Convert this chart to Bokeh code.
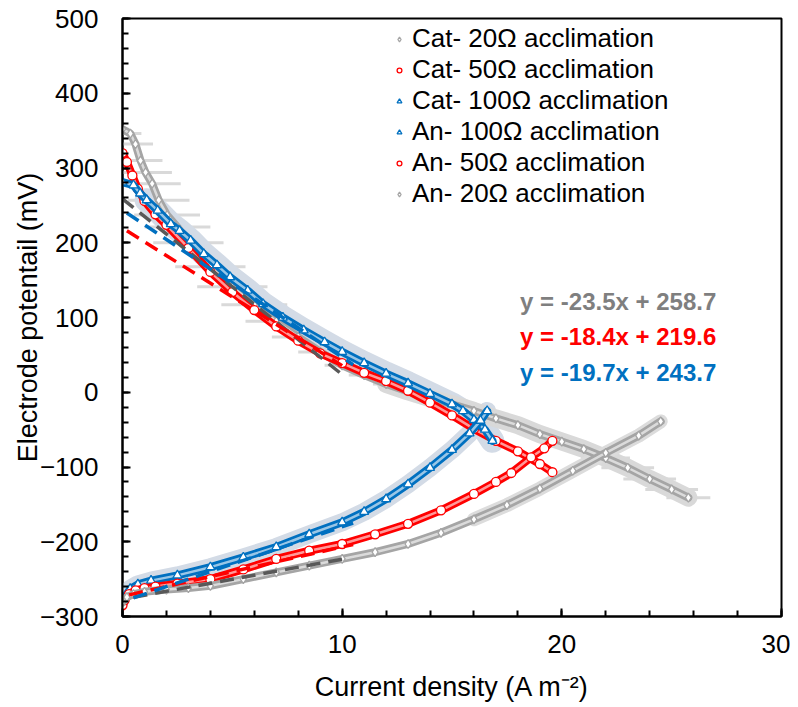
from bokeh.plotting import figure
from bokeh.models import Range1d, Legend, LegendItem, Label, FixedTicker
from bokeh.embed import file_html
from bokeh.resources import INLINE
import numpy as np

# ---------------- data ----------------
cat20_x = [0, 0.36, 0.59, 0.82, 1.05, 1.35, 1.65, 2.03, 2.5, 3, 4, 5, 6, 7, 8, 9, 10, 11, 12, 13, 14, 15, 16, 17, 18, 19, 20, 21, 22, 23, 24, 25, 25.76]
cat20_y = [352, 346, 332, 310, 294, 279, 257, 237, 221, 200, 168, 141, 117, 95, 74, 54, 36, 23, 11, 1, -8, -16, -25, -35, -44, -56, -66, -76, -88, -101, -116, -130, -141]
cat20_xerr = [0.3, 0.5, 0.8, 1.0, 1.2, 1.3, 1.4, 1.5, 1.5, 1.6, 1.6, 1.6, 1.5, 1.4, 1.2, 1.0, 0.8, 0.7, 0.6, 0.6, 0.6, 0.6, 0.6, 0.6, 0.7, 0.8, 0.9, 1.0, 1.1, 1.2, 1.2, 1.2, 1.0]

cat50_x = [0, 0.2, 0.45, 0.7, 1.0, 1.5, 2, 3, 4, 5, 6, 7, 8, 9, 10, 11, 12, 13, 14, 15, 16, 17, 18, 19, 19.57]
cat50_y = [320, 308, 290, 272, 256, 238, 224, 193, 161, 134, 110, 88, 69, 52, 39, 26, 15, 2, -14, -31, -49, -65, -79, -96, -107]

cat100_x = [0, 0.5, 0.8, 1.1, 1.6, 2.2, 2.6, 3.1, 3.7, 4.3, 4.9, 5.7, 6.4, 7.3, 8.25, 9.2, 10, 11, 12, 13, 14, 15, 15.5, 16, 16.5, 16.84]
cat100_y = [281, 277, 266, 257, 243, 225, 216, 203, 185, 170, 154, 136, 118, 100, 83, 67, 54, 39, 25, 12, -2, -16, -25, -37, -50, -65]

an100_x = [0, 0.15, 0.35, 0.7, 1.3, 2.5, 4, 5.5, 7, 8.5, 10, 11, 12, 13, 14, 15, 15.8, 16.3, 16.6]
an100_y = [-281, -272, -263, -257, -252, -245, -234, -221, -207, -190, -174, -160, -143, -123, -101, -77, -55, -38, -25]

an50_x = [0, 0.1, 0.3, 0.6, 1, 1.5, 2.5, 4, 5.5, 7, 8.5, 10, 11.5, 13, 14.5, 16, 17, 17.7, 18.6, 19.2, 19.57]
an50_y = [-285, -278, -270, -265, -262, -260, -256, -250, -237, -223, -212, -203, -190, -176, -158, -136, -120, -108, -87, -75, -65]

an20_x = [0, 0.2, 0.5, 1, 2, 3, 4, 5.5, 7, 8.5, 10, 11.5, 13, 14.5, 16, 17.5, 19, 20.5, 22, 23.5, 24.5]
an20_y = [-281, -274, -270, -267, -264, -262, -259, -250, -241, -232, -223, -214, -203, -188, -170, -151, -129, -105, -81, -58, -39]

# linear fits (slope, intercept, x-span)
fit_cat_slope = [-23.5, -18.4, -19.7]
fit_cat_icpt = [258.7, 219.6, 243.7]
fit_cat_x0 = [0.0, 0.2, 0.2]
fit_cat_x1 = [10.0, 10.0, 10.5]
fit_an_slope = [5.37, 6.6, 10.0]
fit_an_icpt = [-277.0, -273.0, -280.0]
fit_an_x0 = [0.5, 0.3, 0.5]
fit_an_x1 = [10.0, 10.5, 10.5]
fit_colors = ["#595959", "#FF0000", "#0070C0"]

eq_labels = ["y = -23.5x + 258.7", "y = -18.4x + 219.6", "y = -19.7x + 243.7"]
eq_colors = ["#7F7F7F", "#FF0000", "#0070C0"]
eq_x = [18.1, 18.1, 18.1]
eq_y = [121.0, 74.5, 26.5]

legend_labels = ["Cat- 20Ω acclimation", "Cat- 50Ω acclimation", "Cat- 100Ω acclimation",
                 "An- 100Ω acclimation", "An- 50Ω acclimation", "An- 20Ω acclimation"]

x_ticks = [0, 10, 20, 30]
y_ticks = [-300, -200, -100, 0, 100, 200, 300, 400, 500]

FONT = "Liberation Sans"
GRAY = "#A5A5A5"
RED = "#FF0000"
BLUE = "#0070C0"

p = figure(width=790, height=705, output_backend="svg", toolbar_location=None,
           x_range=Range1d(0, 30), y_range=Range1d(-300, 500),
           min_border_left=122, min_border_right=9, min_border_top=18, min_border_bottom=89)
p.grid.visible = False
p.background_fill_color = "white"
p.outline_line_color = "black"
p.outline_line_width = 2

# ---------------- error bands / bars ----------------
cx = np.array(cat20_x); cy = np.array(cat20_y); ce = np.array(cat20_xerr)
p.segment(x0=cx - ce, y0=cy, x1=cx + ce, y1=cy, line_color="#D9D9D9", line_width=3)
p.line(cat100_x[3:], cat100_y[3:], line_color="#D3DBE6", line_width=24, line_join="round", line_cap="round")
p.line(an100_x[2:], an100_y[2:], line_color="#D3DBE6", line_width=18, line_join="round", line_cap="round")
p.line(cat20_x[18:], cat20_y[18:], line_color="#D9D9D9", line_width=18, line_join="round", line_cap="round")
p.line(an20_x[14:], an20_y[14:], line_color="#DCDCDC", line_width=14, line_join="round", line_cap="round")

# ---------------- curves ----------------
def tube(xs, ys, color, width):
    p.line(xs, ys, line_color=color, line_width=width, line_join="round", line_cap="round")
    p.line(xs, ys, line_color="white", line_width=width - 5.5, line_join="round", line_cap="round", line_alpha=0.6)

renderers = {}
series = [
    ("Cat- 20Ω acclimation", cat20_x, cat20_y, GRAY, "diamond", 8),
    ("Cat- 50Ω acclimation", cat50_x, cat50_y, RED, "circle", 8),
    ("Cat- 100Ω acclimation", cat100_x, cat100_y, BLUE, "triangle", 8),
    ("An- 100Ω acclimation", an100_x, an100_y, BLUE, "triangle", 8),
    ("An- 50Ω acclimation", an50_x, an50_y, RED, "circle", 8),
    ("An- 20Ω acclimation", an20_x, an20_y, GRAY, "diamond", 8),
]
for name, xs, ys, col, mk, w in series:
    tube(xs, ys, col, w)
    r = p.scatter(xs, ys, marker=mk, size=9, line_color=col, fill_color="white", line_width=1.3)
    renderers[name] = r

# ---------------- fitted dashed lines ----------------
for i in range(3):
    xs = [fit_cat_x0[i], fit_cat_x1[i]]
    ys = [fit_cat_icpt[i] + fit_cat_slope[i] * v for v in xs]
    p.line(xs, ys, line_color=fit_colors[i], line_width=3.5, line_dash="14 8")
    xs = [fit_an_x0[i], fit_an_x1[i]]
    ys = [fit_an_icpt[i] + fit_an_slope[i] * v for v in xs]
    p.line(xs, ys, line_color=fit_colors[i], line_width=3.5, line_dash="14 8")

# ---------------- equations ----------------
for t, c, xx, yy in zip(eq_labels, eq_colors, eq_x, eq_y):
    p.add_layout(Label(x=xx, y=yy, text=t, text_color=c, text_font=FONT, text_font_size="24px",
                       text_font_style="bold", text_baseline="middle", text_align="left"))

# ---------------- legend ----------------
items = [LegendItem(label=n, renderers=[renderers[n]]) for n in legend_labels]
legend = Legend(items=items, location=(271, 407), border_line_color=None, background_fill_alpha=0,
                label_text_font=FONT, label_text_font_size="26px", label_text_color="black",
                glyph_width=12, glyph_height=12, label_height=30, spacing=0, padding=0, margin=0,
                label_standoff=7, label_text_baseline="middle")
p.add_layout(legend)

# ---------------- axes ----------------
for ax in (p.xaxis[0], p.yaxis[0]):
    ax.axis_line_width = 2
    ax.axis_line_color = "black"
    ax.major_tick_line_width = 2
    ax.minor_tick_line_width = 2
    ax.major_tick_in = 8
    ax.major_tick_out = 0
    ax.minor_tick_in = 6
    ax.minor_tick_out = 0
    ax.major_label_text_font = FONT
    ax.major_label_text_font_size = "26px"
    ax.major_label_text_color = "black"
    ax.axis_label_text_font = FONT
    ax.axis_label_text_font_size = "27px"
    ax.axis_label_text_font_style = "normal"
    ax.axis_label_text_color = "black"

p.xaxis.ticker = FixedTicker(ticks=x_ticks, minor_ticks=list(range(0, 31, 2)))
p.yaxis.ticker = FixedTicker(ticks=y_ticks, minor_ticks=list(range(-300, 501, 20)))
p.xaxis.axis_label = "Current density (A m⁻²)"
p.yaxis.axis_label = "Electrode potentail (mV)"
p.xaxis.major_label_standoff = 18
p.yaxis.major_label_standoff = 24
p.xaxis.axis_label_standoff = 16
p.yaxis.axis_label_standoff = -6

open("out.html", "w").write(file_html(p, INLINE))
